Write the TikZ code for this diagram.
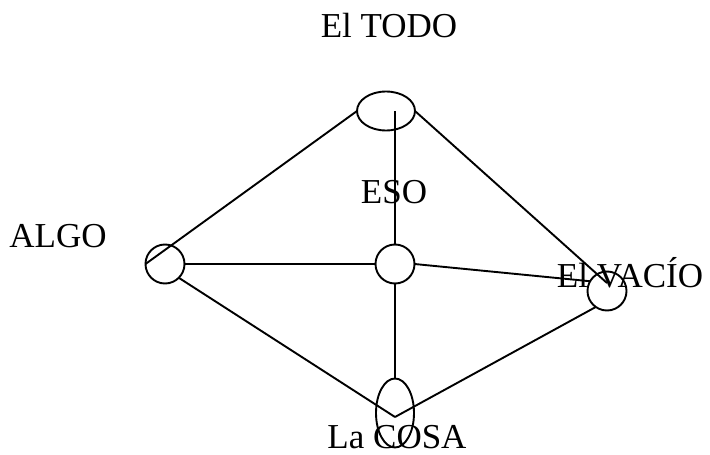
\documentclass[tikz,border=0pt]{standalone}
\usepackage{fontspec}
\setmainfont{Liberation Serif}
\usetikzlibrary{positioning,shapes.geometric}

\begin{document}
\begin{tikzpicture}[
            x=1pt, y=-1pt,
            spot/.style={circle, draw, line width=1.9pt, minimum size=39pt, inner sep=0pt, outer sep=0pt},
            oval/.style={ellipse, draw, line width=1.9pt, inner sep=0pt, outer sep=0pt},
            link/.style={line width=1.9pt},
            tag/.style={anchor=base, inner sep=0pt, font=\fontsize{35}{40}\selectfont}
        ]
        \useasboundingbox (0,0) rectangle (710,455);

        \node[oval, minimum width=58pt, minimum height=39pt] (todo) at (386,111) {};
        \node[spot] (algo) at (165,264) {};
        \node[spot] (eso) at (395,264) {};
        \node[spot] (vacio) at (607,291) {};
        \node[oval, minimum width=38pt, minimum height=69pt] (cosa) at (395,413) {};
        \coordinate (tip) at (395,417);

        \node[tag] (ltodo) at (389,37) {El TODO};
        \node[tag] (lalgo) at (58,247) {ALGO};
        \node[tag] (leso) at (394,203) {ESO};
        \node[tag] (lvacio) at (630,287) {El VACÍO};
        \node[tag] (lcosa) at (397,448) {La COSA};

        \draw[link] (todo.west) -- (algo.west);
        \draw[link] (todo.east) -- ([yshift=8pt]vacio.center);
        \draw[link] (eso.north |- todo.center) -- (eso.north);
        \draw[link] (eso.south) -- (cosa.north);
        \draw[link] (algo.east) -- (eso.west);
        \draw[link] (eso.east) -- (vacio.150);
        \draw[link] (algo.-45) -- (tip);
        \draw[link] (tip) -- (vacio.-125);
        \end{tikzpicture}
\end{document}
